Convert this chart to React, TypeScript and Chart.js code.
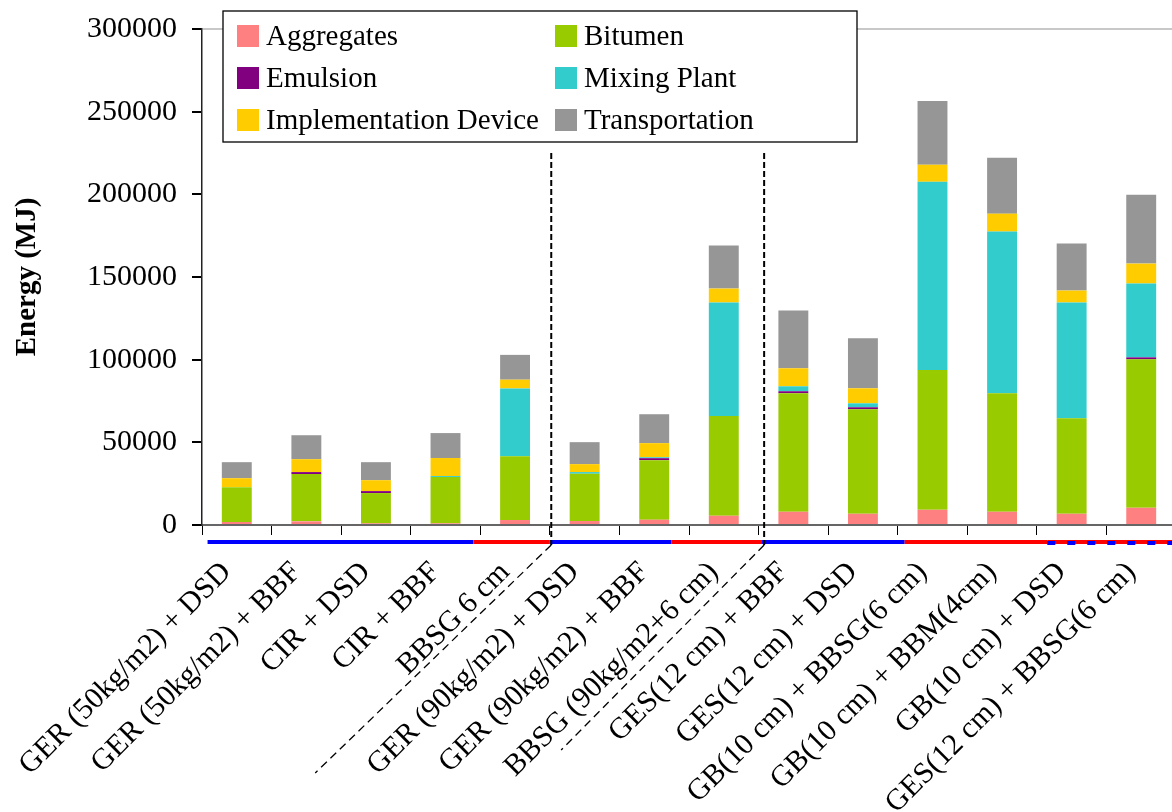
import { useEffect, useRef } from 'react';
import { Chart, registerables } from 'chart.js';

Chart.register(...registerables);

const categories = [
  'GER (50kg/m2) + DSD',
  'GER (50kg/m2) + BBF',
  'CIR + DSD',
  'CIR + BBF',
  'BBSG 6 cm',
  'GER (90kg/m2) + DSD',
  'GER (90kg/m2) + BBF',
  'BBSG (90kg/m2+6 cm)',
  'GES(12 cm) + BBF',
  'GES(12 cm) + DSD',
  'GB(10 cm) + BBSG(6 cm)',
  'GB(10 cm) + BBM(4cm)',
  'GB(10 cm) + DSD',
  'GES(12 cm) + BBSG(6 cm)',
];

const aggregates = [1800, 2200, 1000, 1000, 3000, 2400, 3200, 5600, 8000, 6800, 9200, 8000, 6800, 10400];
const bitumen = [21100, 28600, 18300, 28000, 38600, 28600, 36000, 60400, 71700, 63200, 84500, 71700, 57800, 89800];
const emulsion = [0, 1200, 1200, 0, 0, 0, 1200, 0, 1200, 1200, 0, 0, 0, 1200];
const mixingPlant = [0, 0, 0, 600, 41000, 1000, 600, 68600, 3000, 2400, 113900, 97800, 70000, 44700];
const implementationDevice = [5400, 7800, 6600, 10900, 5300, 4800, 8500, 8400, 10900, 9100, 10300, 10800, 7200, 12000];
const transportation = [9700, 14500, 10900, 15100, 15000, 13300, 17500, 26000, 35000, 30200, 38600, 33800, 28400, 41700];

const seriesNames = ['Aggregates', 'Bitumen', 'Emulsion', 'Mixing Plant', 'Implementation Device', 'Transportation'];
const seriesColors = ['#FF8080', '#99CC00', '#800080', '#33CCCC', '#FFCC00', '#969696'];

const yTicks = [0, 50000, 100000, 150000, 200000, 250000, 300000];

// bands under the axis, in category units
const bandStart = [0.08, 3.9, 5.0, 6.75, 8.05, 10.1, 12.15];
const bandEnd = [3.9, 5.0, 6.75, 8.05, 10.1, 12.15, 14.0];
const bandKind = ['blue', 'red', 'blue', 'red', 'blue', 'red', 'mixed'];

// dashed separators, in category units, top value
const dividerPos = [5.02, 8.08];
const dividerTop = 225000;

const FONT = "'Liberation Serif', 'Times New Roman', serif";

const overlayPlugin = {
  id: 'overlay',
  afterDraw(chart: any) {
    const { ctx, chartArea, scales } = chart;
    const xs = scales.x;
    const ys = scales.y;
    const cw = (xs.right - xs.left) / categories.length;
    const px = (u: number) => xs.left + u * cw;
    const axisY = ys.getPixelForValue(0);
    ctx.save();

    // coloured bands
    const by = axisY + 17;
    ctx.lineCap = 'butt';
    for (let i = 0; i < bandStart.length; i++) {
      const x0 = px(bandStart[i]);
      const x1 = px(bandEnd[i]);
      ctx.lineWidth = 4;
      if (bandKind[i] === 'mixed') {
        ctx.strokeStyle = '#FF0000';
        ctx.setLineDash([]);
        ctx.beginPath();
        ctx.moveTo(x0, by);
        ctx.lineTo(x1, by);
        ctx.stroke();
        ctx.strokeStyle = '#0000FF';
        ctx.setLineDash([8, 12]);
        ctx.beginPath();
        ctx.moveTo(x0, by + 1);
        ctx.lineTo(x1, by + 1);
        ctx.stroke();
        ctx.setLineDash([]);
      } else {
        ctx.strokeStyle = bandKind[i] === 'blue' ? '#0000FF' : '#FF0000';
        ctx.beginPath();
        ctx.moveTo(x0, by);
        ctx.lineTo(x1, by);
        ctx.stroke();
      }
    }

    // dashed dividers
    const diagEnds = [[-236, 228], [-203, 205]];
    for (let i = 0; i < dividerPos.length; i++) {
      const x = px(dividerPos[i]);
      const yTop = ys.getPixelForValue(dividerTop);
      ctx.strokeStyle = '#000';
      ctx.lineWidth = 2;
      ctx.setLineDash([6, 3]);
      ctx.beginPath();
      ctx.moveTo(x, yTop);
      ctx.lineTo(x, axisY + 20);
      ctx.stroke();
      ctx.lineWidth = 1.3;
      ctx.setLineDash([8, 5]);
      ctx.beginPath();
      ctx.moveTo(x, axisY + 20);
      ctx.lineTo(x + diagEnds[i][0], axisY + 20 + diagEnds[i][1]);
      ctx.stroke();
    }
    ctx.setLineDash([]);

    // legend box
    const lx = chartArea.left + 21;
    const ly = 11;
    const lw = 634;
    const lh = 131;
    ctx.fillStyle = '#fff';
    ctx.fillRect(lx, ly, lw, lh);
    ctx.strokeStyle = '#000';
    ctx.lineWidth = 1.3;
    ctx.strokeRect(lx, ly, lw, lh);
    ctx.font = `29px ${FONT}`;
    ctx.textBaseline = 'middle';
    ctx.textAlign = 'left';
    chart.data.datasets.forEach((ds: any, i: number) => {
      const col = i % 2;
      const row = Math.floor(i / 2);
      const sx = lx + 14 + col * 318;
      const cy = ly + 25 + row * 42;
      ctx.fillStyle = ds.backgroundColor;
      ctx.fillRect(sx, cy - 11, 22, 22);
      ctx.fillStyle = '#000';
      ctx.fillText(ds.label, sx + 29, cy + 1);
    });

    ctx.restore();
  },
};

export default function App() {
  const ref = useRef<HTMLCanvasElement | null>(null);
  useEffect(() => {
    if (!ref.current) return;
    const series = [aggregates, bitumen, emulsion, mixingPlant, implementationDevice, transportation];
    const chart = new Chart(ref.current, {
      type: 'bar',
      data: {
        labels: categories,
        datasets: series.map((d, i) => ({
          label: seriesNames[i],
          data: d,
          backgroundColor: seriesColors[i],
          borderWidth: 0,
          barPercentage: 0.43,
          categoryPercentage: 1,
        })),
      },
      options: {
        animation: false,
        responsive: false,
        devicePixelRatio: 1,
        layout: { padding: { top: 29, right: 4, left: 0, bottom: 0 } },
        plugins: { legend: { display: false }, tooltip: { enabled: false } },
        scales: {
          x: {
            stacked: true,
            offset: true,
            grid: { drawOnChartArea: false, tickLength: 10, tickColor: '#000', offset: true },
            border: { color: '#666', width: 2 },
            ticks: {
              autoSkip: false,
              minRotation: 45,
              maxRotation: 45,
              padding: 20,
              labelOffset: -10,
              color: '#000',
              font: { family: FONT, size: 30 },
            },
            afterFit: (s: any) => {
              s.height = 287;
              s.paddingLeft = 0;
              s.paddingRight = 0;
            },
          },
          y: {
            stacked: true,
            min: 0,
            max: 300000,
            afterBuildTicks: (s: any) => {
              s.ticks = yTicks.map((v) => ({ value: v }));
            },
            grid: {
              color: (c: any) => (c.tick && c.tick.value === 300000 ? '#c8c8c8' : 'rgba(0,0,0,0)'),
              lineWidth: 2,
              tickLength: 10,
              tickColor: '#000',
            },
            border: { color: '#222', width: 1.5 },
            ticks: {
              padding: 15,
              color: '#000',
              font: { family: FONT, size: 30 },
              callback: (v: any) => String(v),
            },
            title: {
              display: true,
              text: 'Energy (MJ)',
              color: '#000',
              font: { family: FONT, size: 29, weight: 'bold' },
              padding: { top: 10, bottom: 0 },
            },
            afterFit: (s: any) => {
              s.width = 202;
              s.paddingTop = 0;
              s.paddingBottom = 0;
            },
          },
        },
      },
      plugins: [overlayPlugin],
    });
    return () => chart.destroy();
  }, []);

  return (
    <div style={{ position: 'absolute', left: 0, top: 0, width: 1172, height: 812, overflow: 'hidden', background: '#fff' }}>
      <canvas ref={ref} width={1180} height={812} style={{ display: 'block', width: 1180, height: 812 }} />
    </div>
  );
}
